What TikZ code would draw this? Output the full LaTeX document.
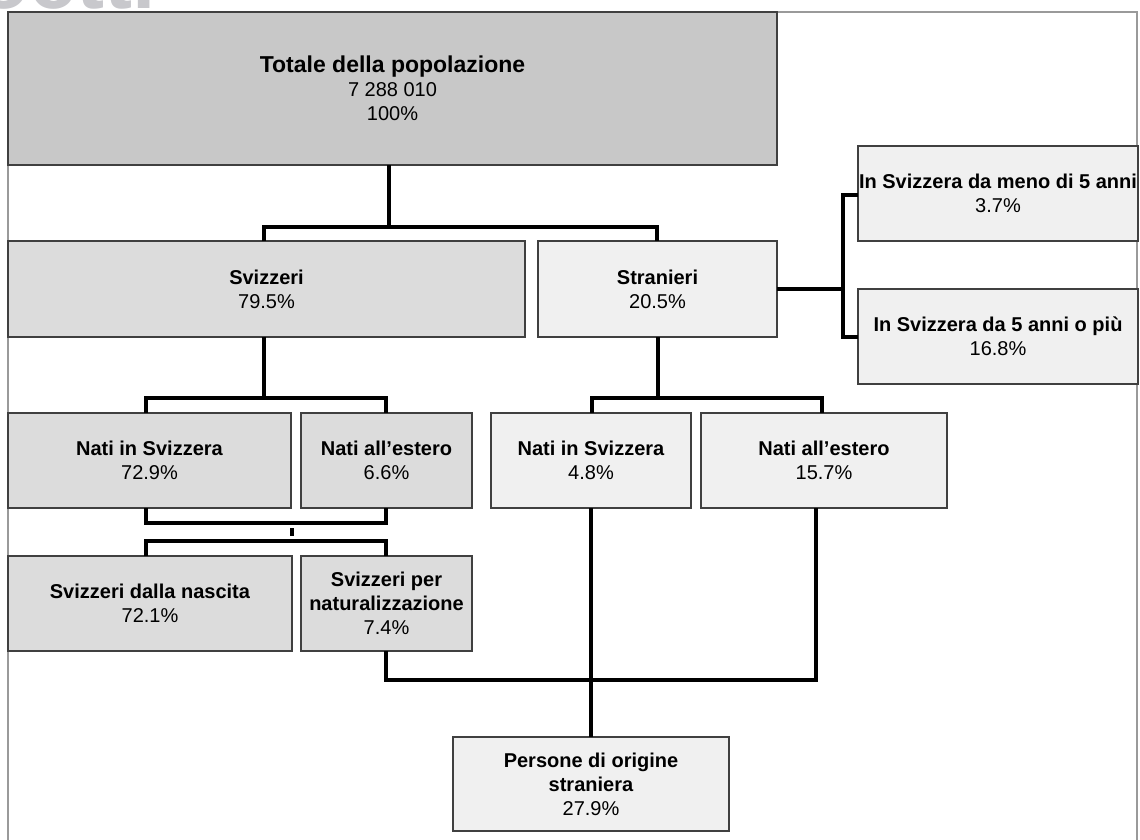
\documentclass[tikz,border=0pt]{standalone}
\usepackage{fontspec}
\setmainfont{Liberation Sans}
\definecolor{totfill}{HTML}{C8C8C8}
\definecolor{svfill}{HTML}{DCDCDC}
\definecolor{stfill}{HTML}{F0F0F0}
\definecolor{edge}{HTML}{404040}
\definecolor{framec}{HTML}{9A9A9A}
\definecolor{wmark}{HTML}{C8C8CC}
\tikzset{
  box/.style={draw=edge, line width=1.2pt, inner sep=0pt, outer sep=0pt, align=center,
    font=\fontsize{20}{24}\selectfont, text=black},
  conn/.style={draw=black, line width=3.5pt, line join=miter},
}
\newcommand\bx[7]{\node[box, fill=#6, minimum width={(#4-#2)*1pt}, minimum height={(#5-#3)*1pt}]
  (#1) at ({(#2+#4)/2},{(#3+#5)/2}) {#7};}
\begin{document}
\begin{tikzpicture}[x=1pt,y=-1pt]
\useasboundingbox (0,0) rectangle (1140,840);
\fill[white] (0,0) rectangle (1140,840);
\begin{scope}
\clip (0,0) rectangle (1140,11);
\node[anchor=base west, inner sep=0pt, text=wmark, font=\fontsize{84}{84}\selectfont\bfseries] (wm) at (-22,9) {octti};
\end{scope}
\draw[framec, line width=1.5pt] (8,845) -- (8,12) -- (1137,12) -- (1137,845);

\bx{tot}{8}{12}{777}{165}{totfill}{{\fontsize{23}{25}\selectfont\bfseries Totale della popolazione}\\7 288 010\\100\%}
\bx{svi}{8}{241}{525}{337}{svfill}{\textbf{Svizzeri}\\79.5\%}
\bx{str}{538}{241}{777}{337}{stfill}{\textbf{Stranieri}\\20.5\%}
\bx{meno}{858}{146}{1138}{241}{stfill}{\textbf{In Svizzera da meno di 5 anni}\\3.7\%}
\bx{piu}{858}{289}{1138}{384}{stfill}{\textbf{In Svizzera da 5 anni o più}\\16.8\%}
\bx{nats}{8}{413}{291}{508}{svfill}{\textbf{Nati in Svizzera}\\72.9\%}
\bx{nate}{301}{413}{472}{508}{svfill}{\textbf{Nati all’estero}\\6.6\%}
\bx{snats}{491}{413}{691}{508}{stfill}{\textbf{Nati in Svizzera}\\4.8\%}
\bx{snate}{701}{413}{947}{508}{stfill}{\textbf{Nati all’estero}\\15.7\%}
\bx{nasc}{8}{556}{292}{651}{svfill}{\textbf{Svizzeri dalla nascita}\\72.1\%}
\bx{natu}{301}{556}{472}{651}{svfill}{\textbf{Svizzeri per}\\\textbf{naturalizzazione}\\7.4\%}
\bx{pers}{453}{737}{729}{831}{stfill}{\textbf{Persone di origine}\\\textbf{straniera}\\27.9\%}

% total -> svizzeri / stranieri
\coordinate (j1) at (389,227);
\coordinate (a1) at (264,227);
\coordinate (a2) at (657,227);
\draw[conn] (tot.south -| j1) -- (j1);
\draw[conn] (svi.north -| a1) -- (a1) -- (a2) -- (str.north -| a2);
% stranieri -> durata
\coordinate (bx) at (843,289);
\draw[conn] (str.east |- bx) -- (bx);
\draw[conn] (meno.west |- 0,195) -| (bx |- 0,337) -- (piu.west |- 0,337);
% svizzeri -> nati
\coordinate (c1) at (264,398);
\draw[conn] (svi.south -| c1) -- (c1);
\draw[conn] (nats.north -| 146,0) |- (c1) -| (nate.north -| 386,0);
% nati -> cittadinanza
\coordinate (d1) at (292,523);
\coordinate (d2) at (292,541);
\draw[conn] (nats.south -| 146,0) |- (d1) -| (nate.south -| 386,0);
\draw[conn] (292,528) -- (292,536);
\draw[conn] (nasc.north -| 146,0) |- (d2) -| (natu.north -| 386,0);
% stranieri -> nati
\coordinate (e1) at (658,398);
\draw[conn] (str.south -| e1) -- (e1);
\draw[conn] (snats.north -| 592,0) |- (e1) -| (snate.north -| 822,0);
% origine straniera
\coordinate (f1) at (591,680);
\coordinate (f2) at (816,680);
\draw[conn] (snats.south -| f1) -- (pers.north -| f1);
\draw[conn] (natu.south -| 386,0) |- (f1) -- (f2) -- (snate.south -| f2);
\end{tikzpicture}
\end{document}
